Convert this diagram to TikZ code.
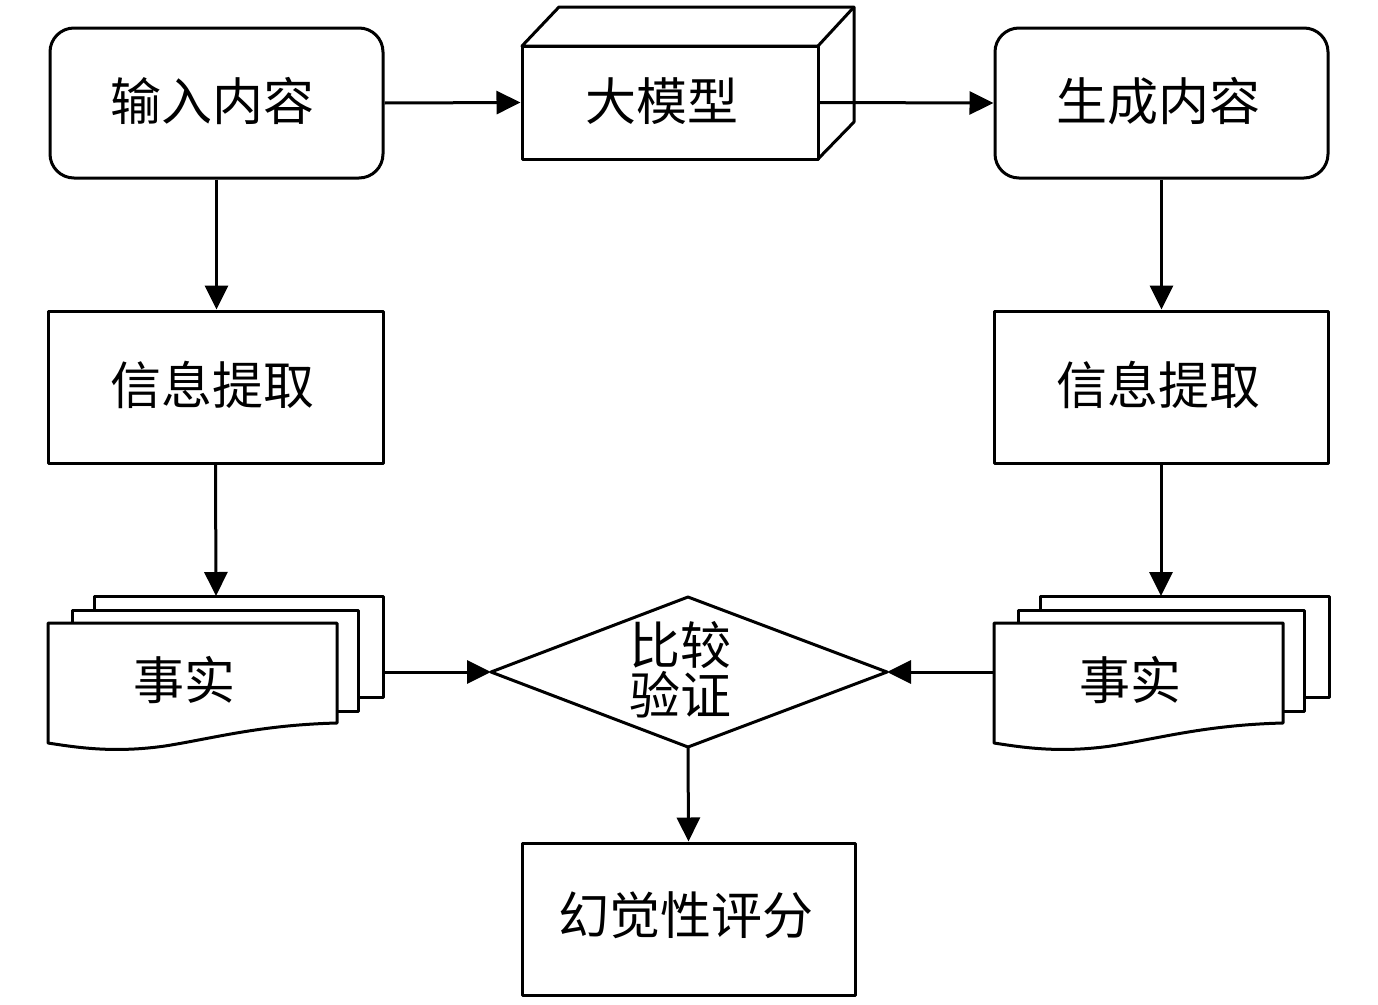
\documentclass[tikz,border=0pt]{standalone}
\usepackage{fontspec}
\setmainfont{Noto Sans CJK SC}
\usetikzlibrary{arrows.meta,shapes.geometric}
\begin{document}
\begin{tikzpicture}[x=1pt,y=-1pt,
  ln/.style={line width=3pt,line join=round},
  box/.style={ln,draw,fill=white,rectangle,inner sep=0pt},
  rbox/.style={box,rounded corners=24pt},
  lbl/.style={font=\fontsize{51}{58}\selectfont,inner sep=0pt,align=center},
  arr/.style={line width=3pt,-{Triangle[length=24pt,width=23pt]}}]
\useasboundingbox (0,0) rectangle (1378,1004);
\fill[white] (0,0) rectangle (1378,1004);
% input
\node[rbox,minimum width=333pt,minimum height=150pt] (inp) at (216.5,103) {};
\node[lbl] at (212,101) {输入内容};
% LLM 3D box
\draw[ln,fill=white] (522,46) -- (559,7) -- (854,7) -- (854,122) -- (818,159) -- (818,46) -- cycle;
\draw[ln] (818,46) -- (854,7);
\node[box,minimum width=296pt,minimum height=113pt] (llm) at (670,102.5) {};
\node[lbl] at (662,101) {大模型};
% generated
\node[rbox,minimum width=333pt,minimum height=150pt] (gen) at (1161.5,103) {};
\node[lbl] at (1158,101) {生成内容};
% extraction
\node[box,minimum width=335pt,minimum height=152pt] (ex1) at (215.5,387) {};
\node[lbl] at (212,385) {信息提取};
\node[box,minimum width=334pt,minimum height=152pt] (ex2) at (1161,387) {};
\node[lbl] at (1158,385) {信息提取};
% facts left
\draw[ln,fill=white] (94,596) rectangle (383,697);
\draw[ln,fill=white] (72,610) rectangle (358,711);
\draw[ln,fill=white] (48,623) -- (337,623) -- (337,723)
  .. controls (260,725) and (215,738) .. (165,746)
  .. controls (115,753) and (80,748) .. (48,743) -- cycle;
\coordinate (f1top) at (216,596);
\coordinate (f1r) at (383,672);
\node[lbl] (f1) at (184,680) {事实};
% facts right
\draw[ln,fill=white] (1040,596) rectangle (1329,697);
\draw[ln,fill=white] (1018,610) rectangle (1304,711);
\draw[ln,fill=white] (994,623) -- (1283,623) -- (1283,723)
  .. controls (1206,725) and (1161,738) .. (1111,746)
  .. controls (1061,753) and (1026,748) .. (994,743) -- cycle;
\coordinate (f2top) at (1161,596);
\coordinate (f2l) at (994,672);
\node[lbl] (f2) at (1130,680) {事实};
% diamond
\draw[ln,fill=white] (491,672) -- (688,597) -- (887,672) -- (688,747) -- cycle;
\coordinate (dl) at (491,672);
\coordinate (dr) at (887,672);
\coordinate (db) at (688,747);
\node[lbl] (cmp) at (680,670) {比较\\[-8pt]验证};
% score
\node[box,minimum width=333pt,minimum height=152pt] (sc) at (688.5,919) {};
\node[lbl] at (686,915) {幻觉性评分};
% arrows
\draw[arr] (inp.east) -- (llm.west);
\draw[arr] (llm.east) -- (gen.west);
\draw[arr] (inp.south) -- (ex1.north -| inp.south);
\draw[arr] (gen.south) -- (ex2.north -| gen.south);
\draw[arr] (ex1.south) -- (f1top);
\draw[arr] (ex2.south) -- (f2top);
\draw[arr] (f1r) -- (dl);
\draw[arr] (f2l) -- (dr);
\draw[arr] (db) -- (sc.north);
\end{tikzpicture}
\end{document}
